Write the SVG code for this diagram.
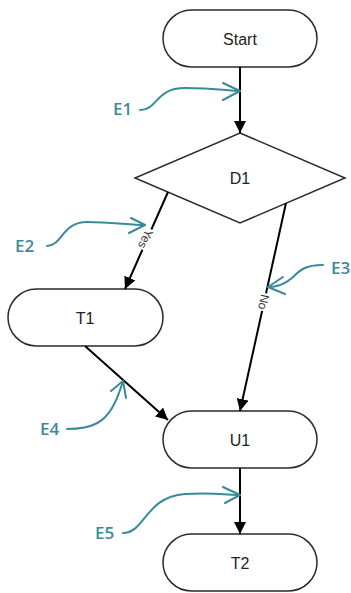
<svg xmlns="http://www.w3.org/2000/svg" width="351" height="593" viewBox="0 0 351 593">
<style>
.node{fill:#fff;stroke:#2a2a2a;stroke-width:1.5}
.lbl{font-family:"Liberation Sans",Arial,sans-serif;font-size:16px;fill:#222;text-anchor:middle;dominant-baseline:central}
.edge{stroke:#000;stroke-width:2;fill:none}
.elbl{font-family:"Liberation Sans",Arial,sans-serif;font-size:12px;fill:#333;text-anchor:middle;dominant-baseline:central}
.ann{stroke:#3a8a9a;stroke-width:2;fill:none;stroke-linecap:round;stroke-linejoin:round}
.atxt{font-family:"Open Sans",sans-serif;font-size:17px;font-weight:600;fill:#3a8a9a}
</style>
<defs>
<marker id="arr" viewBox="0 0 10 10" refX="10" refY="5" markerWidth="6" markerHeight="6" markerUnits="strokeWidth" orient="auto">
<path d="M0,0 L10,5 L0,10 Z" fill="#000"/>
</marker>
</defs>
<g id="start"><rect class="node" x="163" y="10" width="154" height="57" rx="28.5"/><text class="lbl" x="240" y="39">Start</text></g>
<g id="d1"><polygon class="node" points="240,133 345,178 240,223 135,178"/><text class="lbl" x="240" y="178">D1</text></g>
<g id="t1"><rect class="node" x="8" y="289" width="155" height="57" rx="28.5"/><text class="lbl" x="85" y="318">T1</text></g>
<g id="u1"><rect class="node" x="163" y="411" width="154" height="57" rx="28.5"/><text class="lbl" x="240" y="440">U1</text></g>
<g id="t2"><rect class="node" x="163" y="534" width="154" height="57" rx="28.5"/><text class="lbl" x="240" y="563">T2</text></g>
<g id="connectors">
<line class="edge" x1="240" y1="67" x2="240" y2="133" marker-end="url(#arr)"/>
<line class="edge" x1="168" y1="192" x2="125" y2="289" marker-end="url(#arr)"/>
<line class="edge" x1="286" y1="203" x2="240" y2="411" marker-end="url(#arr)"/>
<line class="edge" x1="85" y1="346" x2="168" y2="420" marker-end="url(#arr)"/>
<line class="edge" x1="240" y1="468" x2="240" y2="534" marker-end="url(#arr)"/>
<g transform="translate(145.5,239) rotate(113.9)"><rect x="-11" y="-6" width="22" height="12" fill="#fff"/><text class="elbl" x="0" y="0">Yes</text></g>
<g transform="translate(263.5,302) rotate(102.5)"><rect x="-9" y="-6" width="18" height="12" fill="#fff"/><text class="elbl" x="0" y="0">No</text></g>
</g>
<g id="annotations">
<path class="ann" d="M140,110 C158,110 155,88 185,88 C215,88 230,91 240,91"/>
<path class="ann" d="M223,83 L240,91 L223,100"/>
<text class="atxt" x="113" y="115">E1</text>
<path class="ann" d="M47,246 C62,246 62,222 87,222 C110,222 130,225 145,225"/>
<path class="ann" d="M131,218 L145,225 L129,233"/>
<text class="atxt" x="15" y="252">E2</text>
<path class="ann" d="M323,265 C305,265 300,270 292,278 C285,284 278,287 268,287"/>
<path class="ann" d="M283,277 L268,287 L285,294"/>
<text class="atxt" x="331" y="274">E3</text>
<path class="ann" d="M67,429 C95,429 105,420 112,408 C118,398 120,390 123,381"/>
<path class="ann" d="M111,391 L123,381 L126,398"/>
<text class="atxt" x="40" y="435">E4</text>
<path class="ann" d="M123,533 C145,533 145,497 185,494 C210,492 230,495 240,495"/>
<path class="ann" d="M223,487 L240,495 L225,503"/>
<text class="atxt" x="95" y="539">E5</text>
</g>
</svg>
